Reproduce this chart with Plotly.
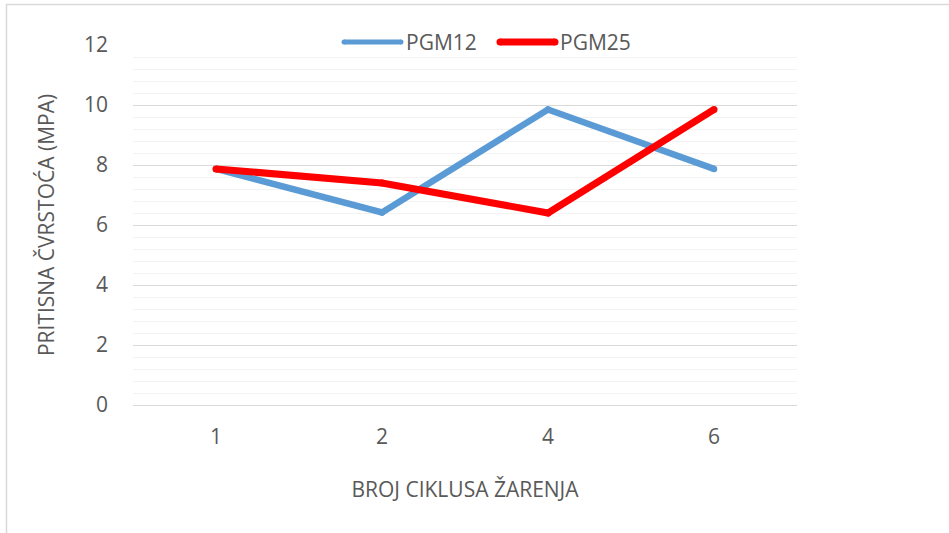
import plotly.graph_objects as go

# Annealing cycles (category axis) and compressive strength in MPa
cycles = ["1", "2", "4", "6"]
pgm12 = [7.87, 6.42, 9.85, 7.87]
pgm25 = [7.87, 7.40, 6.40, 9.85]

series_names = ["PGM12", "PGM25"]
series_colors = ["#5b9bd5", "#ff0000"]
series_widths = [6.5, 7]

y_ticks = [0, 2, 4, 6, 8, 10, 12]

FONT = "Open Sans, sans-serif"
TEXT = "#595959"
FS = 21

fig = go.Figure()
for name, vals, col, w in zip(series_names, [pgm12, pgm25], series_colors, series_widths):
    # round-capped line: thick line plus dots of equal diameter at the vertices
    fig.add_trace(go.Scatter(
        x=cycles, y=vals, mode="lines+markers", name=name,
        line=dict(color=col, width=w),
        marker=dict(color=col, size=w, line=dict(width=0)),
        showlegend=False,
    ))

W, H = 949, 533
L, R, T, B = 133, 152, 45, 128
pw, ph = W - L - R, H - T - B


def px_x(px):
    return (px - L) / pw


def px_y(py):
    return (H - B - py) / ph


# Legend drawn as short thick line samples with labels
legend_items = [(344, 401, 404), (500, 555, 558)]
legend_widths = [5, 7]
for (x0, x1, tx), name, col, w in zip(legend_items, series_names, series_colors, legend_widths):
    fig.add_shape(type="line", xref="paper", yref="paper",
                  x0=px_x(x0), x1=px_x(x1), y0=px_y(42), y1=px_y(42),
                  line=dict(color=col, width=w), layer="above")
    for xe in (x0, x1):
        fig.add_shape(type="circle", xref="paper", yref="paper",
                      x0=px_x(xe - w / 2), x1=px_x(xe + w / 2),
                      y0=px_y(42 + w / 2), y1=px_y(42 - w / 2),
                      fillcolor=col, line=dict(width=0), layer="above")
    fig.add_annotation(xref="paper", yref="paper", x=px_x(tx), y=px_y(42),
                       text=name, showarrow=False, xanchor="left", yanchor="middle",
                       font=dict(family=FONT, size=FS, color=TEXT))

# Chart border
fig.add_shape(type="rect", xref="paper", yref="paper",
              x0=px_x(6.5), x1=px_x(990), y0=px_y(4.5), y1=px_y(600),
              line=dict(color="#d9d9d9", width=1.5), layer="below")

fig.update_layout(
    width=W, height=H,
    margin=dict(l=L, r=R, t=T, b=B),
    paper_bgcolor="white", plot_bgcolor="white",
    font=dict(family=FONT, color=TEXT, size=FS),
    xaxis=dict(
        type="category", range=[-0.5, 3.5],
        showgrid=False, zeroline=False, showline=False,
        ticks="", ticklabelstandoff=17,
        tickfont=dict(size=FS, color=TEXT),
        title=dict(text="BROJ CIKLUSA ŽARENJA", standoff=33,
                   font=dict(size=FS, color=TEXT)),
    ),
    yaxis=dict(
        range=[0, 12], tickvals=y_ticks,
        showgrid=True, gridcolor="#d9d9d9", gridwidth=1.3,
        minor=dict(dtick=0.4, showgrid=True, gridcolor="#f2f2f2", gridwidth=1.3),
        zeroline=True, zerolinecolor="#d9d9d9", zerolinewidth=1.3,
        showline=False, ticks="",
        ticklabelstandoff=24,
        tickfont=dict(size=FS, color=TEXT),
        title=dict(text="PRITISNA ČVRSTOĆA (MPA)", standoff=23,
                   font=dict(size=FS, color=TEXT)),
    ),
)

fig.write_html("out.html")
